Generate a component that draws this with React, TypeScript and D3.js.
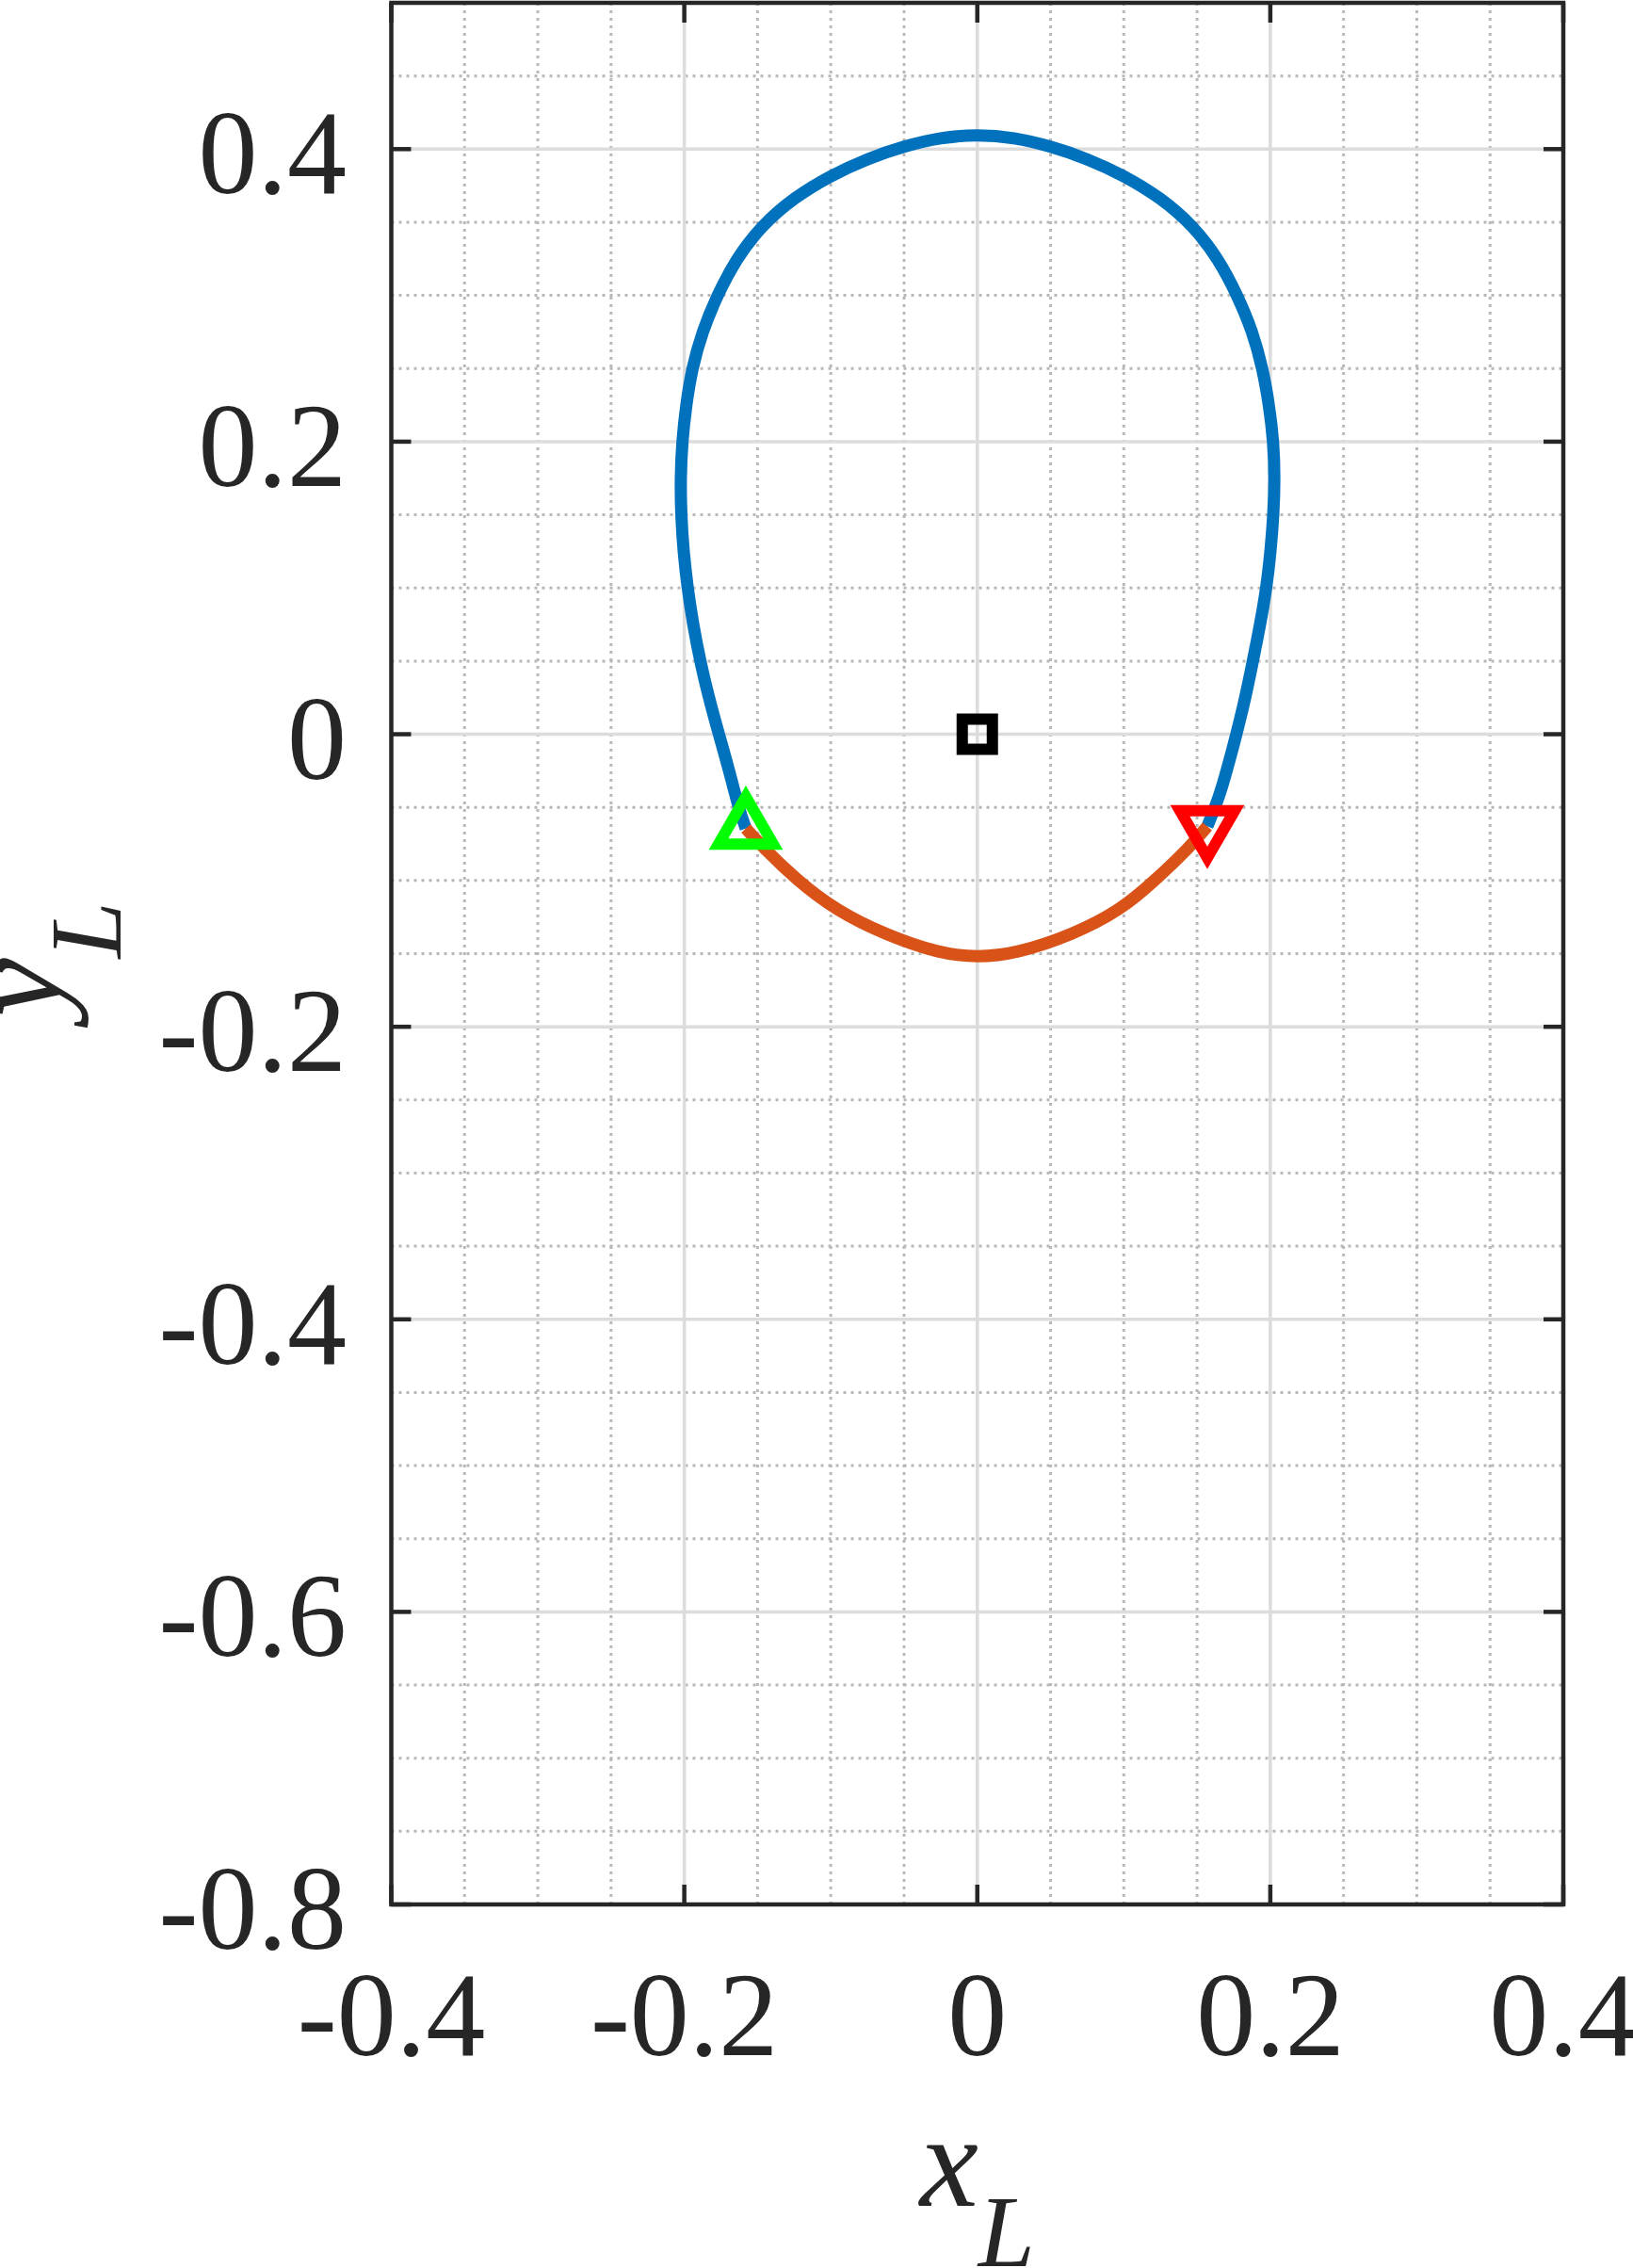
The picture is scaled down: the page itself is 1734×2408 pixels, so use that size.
import * as d3 from 'd3';

// loop traced over the top (blue), from the green marker to the red one
const blueX = [
	-0.158, -0.1631, -0.1693, -0.1764, -0.1833, -0.1892, -0.194, -0.1978, -0.2006, -0.2022, -0.2026, -0.2015,
	-0.1988, -0.1948, -0.1878, -0.1776, -0.1645, -0.148, -0.125, -0.1, -0.075, -0.05, -0.025, 0, 0.025, 0.05,
	0.075, 0.1, 0.125, 0.148, 0.1645, 0.1776, 0.188, 0.1948, 0.1992, 0.2022, 0.203, 0.2022, 0.2002, 0.1974, 0.1931,
	0.1881, 0.183, 0.1769, 0.1705, 0.1651, 0.157
];
const blueY = [
	-0.0644, -0.05, -0.025, 0, 0.025, 0.05, 0.075, 0.1, 0.125, 0.15, 0.175, 0.2, 0.225, 0.25, 0.275, 0.3, 0.325,
	0.347, 0.367, 0.382, 0.3935, 0.402, 0.408, 0.41, 0.408, 0.402, 0.3935, 0.382, 0.367, 0.347, 0.325, 0.3, 0.275,
	0.25, 0.225, 0.2, 0.175, 0.15, 0.125, 0.1, 0.075, 0.05, 0.025, 0, -0.024, -0.043, -0.063
];
// lower arc (orange)
const orangeX = [-0.158, -0.1465, -0.1229, -0.097, -0.0626, -0.0253, 0, 0.0264, 0.065, 0.0982, 0.1212, 0.145, 0.157];
const orangeY = [-0.0644, -0.0772, -0.1, -0.12, -0.1372, -0.15, -0.1526, -0.15, -0.1372, -0.12, -0.1, -0.0772, -0.063];

const startPoint = [-0.158, -0.0644];
const endPoint = [0.157, -0.063];
const centerPoint = [0, 0];

const xTicks = [-0.4, -0.2, 0, 0.2, 0.4];
const xTickLabels = ['-0.4', '-0.2', '0', '0.2', '0.4'];
const yTicks = [-0.8, -0.6, -0.4, -0.2, 0, 0.2, 0.4];
const yTickLabels = ['-0.8', '-0.6', '-0.4', '-0.2', '0', '0.2', '0.4'];

const W = 1734;
const H = 2408;
const left = 415.5;
const right = 1660;
const top = 3;
const bottom = 2022;
const axisColor = '#262626';
const font = 'Liberation Serif, DejaVu Serif, serif';

export default function App() {
	const x = d3.scaleLinear().domain([-0.4, 0.4]).range([left, right]);
	const y = d3.scaleLinear().domain([-0.8, 0.5]).range([bottom, top]);

	const isMajor = (v: number, majors: number[]) => majors.some((m) => Math.abs(m - v) < 1e-9);
	const xMinor = x.ticks(16).filter((v) => !isMajor(v, xTicks));
	const yMinor = y.ticks(26).filter((v) => !isMajor(v, yTicks) && v < 0.5 - 1e-9);

	const line = d3
		.line<[number, number]>()
		.x((d) => x(d[0]))
		.y((d) => y(d[1]))
		.curve(d3.curveBasis);

	const bluePts = blueX.map((v, i) => [v, blueY[i]] as [number, number]);
	const orangePts = orangeX.map((v, i) => [v, orangeY[i]] as [number, number]);

	// equilateral triangle, centred on its centroid
	const side = 58;
	const th = (side * Math.sqrt(3)) / 2;
	const triUp = (cx: number, cy: number) =>
		`M${cx},${cy - (2 * th) / 3}L${cx + side / 2},${cy + th / 3}L${cx - side / 2},${cy + th / 3}Z`;
	const triDown = (cx: number, cy: number) =>
		`M${cx},${cy + (2 * th) / 3}L${cx + side / 2},${cy - th / 3}L${cx - side / 2},${cy - th / 3}Z`;

	const tickLen = 21;

	return (
		<svg width={W} height={H} style={{ position: 'absolute', left: 0, top: 0, background: '#fff' }}>
			<rect x={0} y={0} width={W} height={H} fill='#fff' />
			{/* minor grid */}
			{xMinor.map((v) => (
				<line key={'xm' + v} x1={x(v)} x2={x(v)} y1={top} y2={bottom} stroke='#b8b8b8' strokeWidth={3} strokeDasharray='3,5' />
			))}
			{yMinor.map((v) => (
				<line key={'ym' + v} x1={left} x2={right} y1={y(v)} y2={y(v)} stroke='#b8b8b8' strokeWidth={3} strokeDasharray='3,5' />
			))}
			{/* major grid */}
			{xTicks.map((v) => (
				<line key={'xg' + v} x1={x(v)} x2={x(v)} y1={top} y2={bottom} stroke='#dcdcdc' strokeWidth={3.5} />
			))}
			{yTicks.map((v) => (
				<line key={'yg' + v} x1={left} x2={right} y1={y(v)} y2={y(v)} stroke='#dcdcdc' strokeWidth={3.5} />
			))}

			{/* curves */}
			<path d={line(bluePts) ?? ''} fill='none' stroke='#0072BD' strokeWidth={13} strokeLinejoin='round' />
			<path d={line(orangePts) ?? ''} fill='none' stroke='#D95319' strokeWidth={13} strokeLinejoin='round' />

			{/* markers */}
			<rect
				x={x(centerPoint[0]) - 16}
				y={y(centerPoint[1]) - 16}
				width={32}
				height={32}
				fill='none'
				stroke='#000'
				strokeWidth={12}
			/>
			<path d={triUp(x(startPoint[0]), y(startPoint[1]))} fill='none' stroke='#00FF00' strokeWidth={12} strokeLinejoin='miter' />
			<path d={triDown(x(endPoint[0]), y(endPoint[1]))} fill='none' stroke='#FF0000' strokeWidth={12} strokeLinejoin='miter' />

			{/* ticks */}
			{xTicks.map((v) => (
				<g key={'xt' + v} stroke={axisColor} strokeWidth={4.5}>
					<line x1={x(v)} x2={x(v)} y1={bottom} y2={bottom - tickLen} />
					<line x1={x(v)} x2={x(v)} y1={top} y2={top + tickLen} />
				</g>
			))}
			{yTicks.map((v) => (
				<g key={'yt' + v} stroke={axisColor} strokeWidth={4.5}>
					<line x1={left} x2={left + tickLen} y1={y(v)} y2={y(v)} />
					<line x1={right} x2={right - tickLen} y1={y(v)} y2={y(v)} />
				</g>
			))}

			{/* box */}
			<rect x={left} y={top} width={right - left} height={bottom - top} fill='none' stroke={axisColor} strokeWidth={4.5} />

			{/* tick labels */}
			{xTicks.map((v, i) => (
				<text key={'xl' + v} x={x(v)} y={2182} textAnchor='middle' style={{ fontFamily: font }} fontSize={126} fill={axisColor}>
					{xTickLabels[i]}
				</text>
			))}
			{yTicks.map((v, i) => (
				<text key={'yl' + v} x={368} y={y(v) + 47} textAnchor='end' style={{ fontFamily: font }} fontSize={126} fill={axisColor}>
					{yTickLabels[i]}
				</text>
			))}

			{/* axis labels */}
			<text x={(left + right) / 2} y={2342} textAnchor='middle' style={{ fontFamily: font }} fontStyle='italic' fontSize={140} fill={axisColor}>
				<tspan>x</tspan>
				<tspan fontSize={108} dy={64}>L</tspan>
			</text>
			<text
				transform={`translate(64, ${(top + bottom) / 2 + 6}) rotate(-90)`}
				textAnchor='middle'
				style={{ fontFamily: font }}
				fontStyle='italic'
				fontSize={140}
				fill={axisColor}
			>
				<tspan>y</tspan>
				<tspan fontSize={108} dy={64}>L</tspan>
			</text>
		</svg>
	);
}
